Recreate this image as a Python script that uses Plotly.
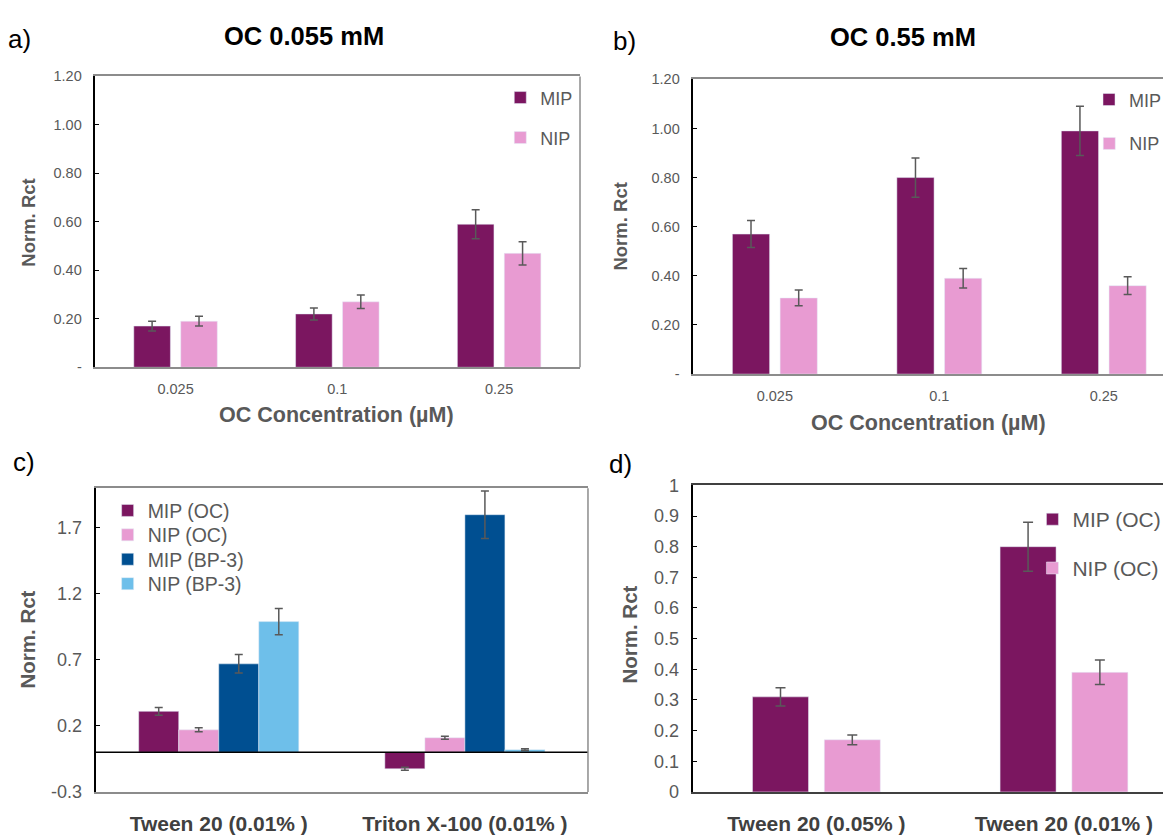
import plotly.graph_objects as go

W, H = 1167, 838
FONT = "Liberation Sans, Arial, sans-serif"

# ---------------- data ----------------
conc_labels = ["0.025", "0.1", "0.25"]

a_mip = [0.17, 0.22, 0.59]
a_mip_err = [0.02, 0.025, 0.06]
a_nip = [0.19, 0.27, 0.47]
a_nip_err = [0.02, 0.028, 0.048]

b_mip = [0.57, 0.80, 0.99]
b_mip_err = [0.055, 0.08, 0.10]
b_nip = [0.31, 0.39, 0.36]
b_nip_err = [0.032, 0.04, 0.036]

c_cats = ["Tween 20 (0.01% )", "Triton X-100 (0.01% )"]
c_mip_oc = [0.31, -0.125]
c_mip_oc_err = [0.03, 0.012]
c_nip_oc = [0.17, 0.11]
c_nip_oc_err = [0.015, 0.012]
c_mip_bp = [0.67, 1.80]
c_mip_bp_err = [0.07, 0.18]
c_nip_bp = [0.99, 0.02]
c_nip_bp_err = [0.10, 0.006]

d_cats = ["Tween 20 (0.05% )", "Tween 20 (0.01% )"]
d_mip = [0.31, 0.80]
d_mip_err = [0.03, 0.08]
d_nip = [0.17, 0.39]
d_nip_err = [0.016, 0.04]

a_yticks = [0, 0.2, 0.4, 0.6, 0.8, 1.0, 1.2]
a_yticktext = ["-", "0.20", "0.40", "0.60", "0.80", "1.00", "1.20"]
c_yticks = [-0.3, 0.2, 0.7, 1.2, 1.7]
d_yticks = [0, 0.1, 0.2, 0.3, 0.4, 0.5, 0.6, 0.7, 0.8, 0.9, 1]

C_MIP = "#7B1660"
C_NIP = "#E89BD2"
C_MIP_BP = "#004F91"
C_NIP_BP = "#6EBFEA"
ERR = "#595959"


def px_x(p):
    return p / W


def px_y(p):
    return 1 - p / H


fig = go.Figure()
legends = {}


def leg(name, x, y, size):
    legends[name] = dict(x=px_x(x), y=px_y(y), xanchor="left", yanchor="middle",
                         bgcolor="rgba(0,0,0,0)", itemwidth=30,
                         font=dict(family=FONT, size=size, color="#595959"))


def err(vals, w=4):
    return dict(type="data", array=vals, color=ERR, thickness=1.5, width=w)


def add_pair(x, y1, e1, y2, e2, xa, ya, legs, names, ew=4):
    fig.add_trace(go.Bar(x=x, y=y1, error_y=err(e1, ew), name=names[0], marker_color=C_MIP,
                         xaxis=xa, yaxis=ya, legend=legs[0], showlegend=True))
    fig.add_trace(go.Bar(x=x, y=y2, error_y=err(e2, ew), name=names[1], marker_color=C_NIP,
                         xaxis=xa, yaxis=ya, legend=legs[1], showlegend=True))


add_pair(conc_labels, a_mip, a_mip_err, a_nip, a_nip_err, "x", "y", ["legend", "legend2"], ["MIP", "NIP"])
add_pair(conc_labels, b_mip, b_mip_err, b_nip, b_nip_err, "x2", "y2", ["legend3", "legend4"], ["MIP", "NIP"])
add_pair(d_cats, d_mip, d_mip_err, d_nip, d_nip_err, "x4", "y4", ["legend9", "legend10"],
         ["MIP (OC)", "NIP (OC)"], ew=5)

# panel c: four bars per group, no gap between them
bw = 0.1626
c_series = [
    ("MIP (OC)", c_mip_oc, c_mip_oc_err, C_MIP),
    ("NIP (OC)", c_nip_oc, c_nip_oc_err, C_NIP),
    ("MIP (BP-3)", c_mip_bp, c_mip_bp_err, C_MIP_BP),
    ("NIP (BP-3)", c_nip_bp, c_nip_bp_err, C_NIP_BP),
]
for i, (nm, vals, e, col) in enumerate(c_series):
    fig.add_trace(go.Bar(x=c_cats, y=vals, error_y=err(e, 4), name=nm, marker_color=col,
                         width=bw, offset=-2 * bw + i * bw, showlegend=True,
                         xaxis="x3", yaxis="y3", legend="legend%d" % (5 + i)))

leg("legend", 502, 90, 18)
leg("legend2", 502, 131, 18)
leg("legend3", 1093, 92, 18)
leg("legend4", 1093, 137, 18)
for i, yy in enumerate([513, 538, 563, 588]):
    leg("legend%d" % (5 + i), 108, yy, 19.5)
leg("legend9", 1036, 522, 21)
leg("legend10", 1036, 572, 21)

small_tick = dict(family=FONT, size=14.5, color="#595959")
big_tick = dict(family=FONT, size=18, color="#595959")
cat_tick = dict(family=FONT, size=21, color="#404040", weight="bold")


def yax(domain, rng, tickvals, ticktext, font, anchor):
    return dict(domain=domain, range=rng, tickvals=tickvals, ticktext=ticktext,
                tickfont=font, showgrid=False, zeroline=False, showline=True,
                linecolor="#000000", linewidth=2, ticks="inside", ticklen=4,
                tickcolor="#000000", anchor=anchor, ticklabelstandoff=8, fixedrange=True)


def xax(domain, rng, font, anchor, linecolor, standoff):
    return dict(domain=domain, range=rng, type="category", tickfont=font, showgrid=False,
                zeroline=False, showline=True, mirror=True, linecolor=linecolor, linewidth=1.5,
                ticks="", anchor=anchor, ticklabelstandoff=standoff, fixedrange=True)


fig.update_layout(
    width=W, height=H,
    margin=dict(l=0, r=0, t=0, b=0),
    paper_bgcolor="white", plot_bgcolor="white",
    showlegend=True,
    barmode="group", bargap=0.42, bargroupgap=0.22,
    font=dict(family=FONT),
    xaxis=xax([px_x(95), px_x(582)], [-0.5, 2.5], small_tick, "y", "#8c8c8c", 8),
    yaxis=yax([px_y(366), px_y(68)], [0, 1.2], a_yticks, a_yticktext, small_tick, "x"),
    xaxis2=xax([px_x(695), 1.0], [-0.5, 2.36], small_tick, "y2", "#8c8c8c", 8),
    yaxis2=yax([px_y(373), px_y(71)], [0, 1.2], a_yticks, a_yticktext, small_tick, "x2"),
    xaxis3=xax([px_x(96), px_x(590)], [-0.5, 1.5], cat_tick, "y3", "#8c8c8c", 12),
    yaxis3=yax([px_y(801), px_y(490)], [-0.3, 2.0], c_yticks, [str(v) for v in c_yticks], big_tick, "x3"),
    xaxis4=xax([px_x(695), 1.0], [-0.5, 1.4], cat_tick, "y4", "#404040", 12),
    yaxis4=yax([px_y(801), px_y(487)], [0, 1.0], d_yticks, [str(v) for v in d_yticks], big_tick, "x4"),
    **legends,
)

# zero line in panel c
fig.add_shape(type="line", xref="x3 domain", yref="y3", x0=0, x1=1, y0=0, y1=0,
              line=dict(color="#000000", width=1.5))
# right frame edges for a and c
for xr, yr in [("x domain", "y domain"), ("x3 domain", "y3 domain")]:
    fig.add_shape(type="line", xref=xr, yref=yr, x0=1, x1=1, y0=0, y1=1,
                  line=dict(color="#8c8c8c", width=1.5))


def ann(text, x, y, size, color="#000000", bold=False, angle=0):
    fig.add_annotation(text=("<b>%s</b>" % text) if bold else text, x=px_x(x), y=px_y(y),
                       xref="paper", yref="paper", showarrow=False, textangle=angle,
                       font=dict(family=FONT, size=size, color=color),
                       xanchor="center", yanchor="middle")


ann("a)", 20, 30, 26)
ann("b)", 627, 32, 26)
ann("c)", 24, 463, 26)
ann("d)", 623, 465, 26)
ann("OC 0.055 mM", 305, 27, 25.5, bold=True)
ann("OC 0.55 mM", 906, 28, 25.5, bold=True)
ann("OC Concentration (µM)", 338, 415, 21.5, "#595959", bold=True)
ann("OC Concentration (µM)", 932, 423, 21.5, "#595959", bold=True)
ann("Norm. Rct", 29, 218, 18.5, "#595959", bold=True, angle=-90)
ann("Norm. Rct", 623, 222, 18.5, "#595959", bold=True, angle=-90)
ann("Norm. Rct", 28, 645, 20.5, "#595959", bold=True, angle=-90)
ann("Norm. Rct", 632, 640, 20.5, "#595959", bold=True, angle=-90)

fig.write_html("out.html")
